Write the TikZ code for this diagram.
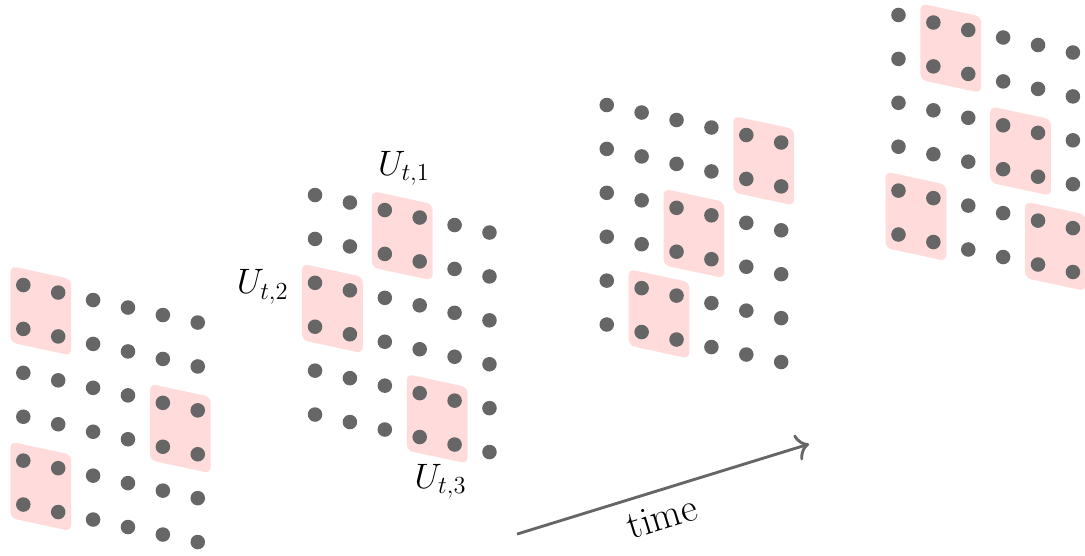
\documentclass[tikz,border=0pt]{standalone}
\usepackage{amsmath}
\usetikzlibrary{arrows.meta,positioning}
\definecolor{dotgray}{HTML}{666666}
\definecolor{patchpink}{HTML}{FFDBDB}

\begin{document}
\begin{tikzpicture}[
  dot/.style={circle, fill=dotgray, inner sep=0pt, minimum size=2.5mm},
  patch/.style={fill=patchpink, rounded corners=3pt},
  lbl/.style={font=\LARGE},
  arr/.style={-{To[length=2.2mm]}, line width=1.4pt, draw=dotgray}
]
  \useasboundingbox (0,0) rectangle (18.66,9.546);

  % four snapshots, each a sheared 6x6 grid with its patches
  \foreach \g/\cells in {0/{0/0,4/2,0/4}, 1/{2/0,0/2,3/4}, 2/{4/0,2/2,1/4}, 3/{1/0,3/2,0/4,4/4}} {
    \begin{scope}[cm={0.6,-0.129,0,-0.755,({0.401+5.017*\g},{4.644+1.548*\g})}]
      \foreach \c/\r in \cells
        \fill[patch] (\c-0.37,\r-0.37) -- (\c+1.37,\r-0.37) -- (\c+1.37,\r+1.37) -- (\c-0.37,\r+1.37) -- cycle;
      \foreach \i in {0,...,5}
        \foreach \j in {0,...,5}
          \node[dot] (d\g-\i-\j) at (\i,\j) {};
    \end{scope}
  }

  % labels of the second snapshot
  \begin{scope}[cm={0.6,-0.129,0,-0.755,(5.418,6.192)}]
    \node[lbl] (u1) at (2.55,-1.04) {$U_{t,1}$};
    \node[lbl] (u2) at (-1.5,2.35) {$U_{t,2}$};
    \node[lbl] (u3) at (3.6,5.9) {$U_{t,3}$};
  \end{scope}

  \coordinate (t0) at (8.892,0.361);
  \coordinate (t1) at (13.915,1.909);
  \draw[arr] (t0) -- (t1) node[pos=0.47, below=2.5pt, sloped, font=\fontsize{19.5}{22}\selectfont] (tlbl) {time};
\end{tikzpicture}
\end{document}
